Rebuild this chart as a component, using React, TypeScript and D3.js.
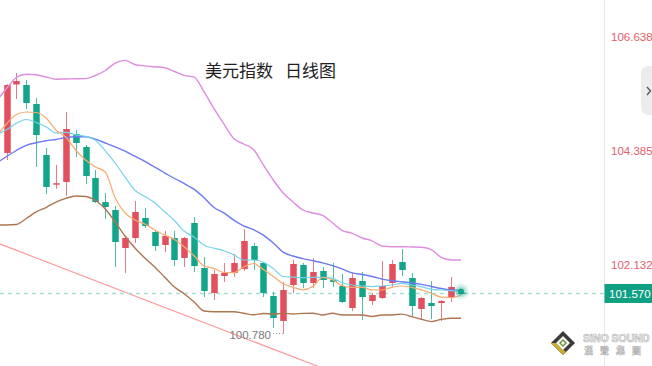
import { useRef, useEffect } from 'react'
import * as d3 from 'd3'

const W = 652
const H = 366

// daily candles, oldest first (last one is today's, still open)
const opens = [104.335, 105.683, 105.673, 105.299, 104.295, 103.725, 103.764, 104.709, 104.453, 103.843, 103.37, 103.213, 102.465, 102.662, 103.055, 102.78, 102.524, 102.662, 102.268, 102.957, 102.071, 101.579, 101.914, 101.973, 102.051, 102.504, 102.169, 101.52, 101.028, 101.736, 102.13, 101.776, 102.012, 101.835, 101.717, 101.284, 101.815, 101.421, 101.481, 101.776, 102.189, 101.874, 101.264, 101.382, 101.382, 101.481, 101.59]
const highs = [105.69, 105.91, 105.772, 105.418, 104.433, 104.099, 105.142, 104.788, 104.492, 104.0, 103.547, 103.292, 102.68, 103.39, 103.252, 102.819, 102.799, 102.799, 102.68, 103.075, 102.288, 102.032, 102.169, 102.347, 102.839, 102.563, 102.189, 101.599, 101.795, 102.229, 102.169, 102.268, 102.091, 102.169, 101.953, 101.973, 101.992, 101.579, 102.209, 102.229, 102.445, 101.973, 101.5, 101.815, 101.441, 101.894, 101.61]
const lows = [104.197, 105.398, 105.201, 104.059, 103.528, 103.626, 103.488, 104.256, 103.725, 103.35, 103.036, 102.091, 101.973, 102.563, 102.858, 102.406, 102.386, 102.11, 102.091, 101.992, 101.5, 101.441, 101.795, 101.894, 102.012, 102.032, 101.5, 100.89, 100.78, 101.579, 101.677, 101.677, 101.677, 101.697, 101.382, 101.225, 101.047, 101.343, 101.461, 101.7, 101.914, 101.107, 101.067, 101.067, 101.028, 101.402, 101.55]
const closes = [105.673, 105.752, 105.319, 104.689, 103.666, 103.74, 104.807, 104.532, 103.882, 103.37, 103.272, 102.583, 102.662, 103.173, 102.898, 102.504, 102.701, 102.229, 102.662, 102.11, 101.618, 101.953, 101.973, 102.169, 102.603, 102.229, 101.579, 101.087, 101.638, 102.15, 101.776, 101.992, 101.835, 101.795, 101.402, 101.874, 101.5, 101.54, 101.717, 102.15, 102.032, 101.323, 101.481, 101.323, 101.421, 101.697, 101.57]

// indicator lines, one value per day starting the day before the first candle
const upperBand = [105.358, 105.605, 105.821, 105.886, 105.874, 105.831, 105.788, 105.792, 105.795, 105.799, 105.86, 105.959, 106.103, 106.158, 106.077, 106.049, 106.032, 106.014, 105.939, 105.864, 105.827, 105.536, 105.209, 104.906, 104.62, 104.512, 104.404, 104.099, 103.803, 103.548, 103.37, 103.213, 103.154, 103.105, 102.957, 102.809, 102.752, 102.662, 102.607, 102.504, 102.49, 102.49, 102.485, 102.479, 102.433, 102.278, 102.229, 102.229]
const ma20 = [104.138, 104.266, 104.384, 104.486, 104.536, 104.575, 104.601, 104.64, 104.654, 104.656, 104.607, 104.532, 104.455, 104.37, 104.272, 104.17, 104.055, 103.945, 103.833, 103.732, 103.618, 103.455, 103.262, 103.156, 103.012, 102.898, 102.825, 102.717, 102.563, 102.382, 102.307, 102.256, 102.213, 102.171, 102.118, 102.048, 101.975, 101.943, 101.904, 101.853, 101.821, 101.801, 101.78, 101.748, 101.707, 101.668, 101.638, 101.624]
const ma10 = [104.699, 104.792, 104.92, 104.994, 104.935, 104.851, 104.731, 104.742, 104.693, 104.662, 104.587, 104.378, 104.138, 103.858, 103.601, 103.479, 103.357, 103.179, 103.006, 102.794, 102.675, 102.52, 102.461, 102.41, 102.331, 102.229, 102.229, 102.185, 102.059, 101.904, 101.89, 101.88, 101.888, 101.888, 101.868, 101.78, 101.736, 101.717, 101.705, 101.717, 101.736, 101.768, 101.736, 101.705, 101.652, 101.638, 101.626, 101.609]
const ma5 = [104.67, 104.906, 105.093, 105.142, 105.132, 105.024, 104.788, 104.65, 104.394, 104.197, 104.059, 103.961, 103.449, 103.154, 103.016, 102.937, 102.819, 102.721, 102.632, 102.485, 102.307, 102.11, 102.065, 101.982, 101.979, 102.091, 102.16, 102.042, 101.904, 101.76, 101.693, 101.64, 101.705, 101.884, 101.839, 101.721, 101.691, 101.691, 101.64, 101.638, 101.691, 101.717, 101.691, 101.64, 101.575, 101.496, 101.487, 101.54]
const lowerBand = [102.918, 102.918, 102.927, 103.045, 103.174, 103.262, 103.37, 103.443, 103.488, 103.479, 103.4, 103.232, 102.977, 102.701, 102.465, 102.268, 102.091, 101.894, 101.697, 101.559, 101.402, 101.225, 101.211, 101.211, 101.211, 101.181, 101.15, 101.175, 101.166, 101.177, 101.167, 101.177, 101.179, 101.146, 101.179, 101.146, 101.146, 101.146, 101.116, 101.146, 101.146, 101.164, 101.114, 101.063, 101.016, 101.059, 101.081, 101.081]

const axisTicks = [106.638, 104.385, 102.132]
const lastPrice = 101.57
const lowPrice = 100.78
const lowDay = 28
// falling trend line, two anchor points (day index, price)
const trendDays = [-1, 32]
const trendPrices = [102.569, 100.099]

const lineStyles = [
  { data: upperBand, color: '#de8ddf', width: 1.4 },
  { data: lowerBand, color: '#ad7651', width: 1.4 },
  { data: ma20, color: '#6c79f1', width: 1.4 },
  { data: ma10, color: '#72d3ea', width: 1.2 },
  { data: ma5, color: '#f8ab6c', width: 1.2 },
]

const UP = '#e24f5d'
const DOWN = '#13a589'

const App = () => {
  const svgRef = useRef<SVGSVGElement>(null)

  useEffect(() => {
    if (!svgRef.current) return
    const svg = d3.select(svgRef.current)
    svg.selectAll('*').remove()

    const x = d3.scaleLinear().domain([0, 46]).range([6.5, 461])
    const y = d3.scaleLinear().domain([106.638, 101.57]).range([36, 36 + 5.068 * 50.8])

    const axisX = 604.5

    // trend line
    svg.append('line')
      .attr('x1', x(trendDays[0])).attr('y1', y(trendPrices[0]))
      .attr('x2', x(trendDays[1])).attr('y2', y(trendPrices[1]))
      .attr('stroke', '#ff9c9c').attr('stroke-width', 1.2)

    // last price dashed line
    svg.append('line')
      .attr('x1', 0).attr('x2', axisX)
      .attr('y1', y(lastPrice)).attr('y2', y(lastPrice))
      .attr('stroke', '#a5ddd0').attr('stroke-width', 1.5)
      .attr('stroke-dasharray', '4,4')

    // candles
    const g = svg.append('g')
    opens.forEach((o, i) => {
      const c = closes[i]
      const col = c >= o ? UP : DOWN
      const cx = Math.round(x(i)) + 0.5
      g.append('line')
        .attr('x1', cx).attr('x2', cx)
        .attr('y1', y(highs[i])).attr('y2', y(lows[i]))
        .attr('stroke', col).attr('stroke-opacity', 0.75).attr('stroke-width', 1)
      const top = y(Math.max(o, c))
      const h = Math.max(1.5, Math.abs(y(o) - y(c)))
      g.append('rect')
        .attr('x', cx - 3.25).attr('width', 6.5)
        .attr('y', top).attr('height', h)
        .attr('fill', col)
    })

    // indicator lines
    const line = d3.line<number>()
      .x((_, k) => x(k - 1))
      .y(d => y(d))
      .curve(d3.curveMonotoneX)
    lineStyles.forEach(s => {
      svg.append('path')
        .attr('d', line(s.data))
        .attr('fill', 'none')
        .attr('stroke', s.color)
        .attr('stroke-width', s.width)
    })

    // glowing dot on the current price
    const dx = x(46)
    const dy = y(ma10[ma10.length - 1])
    svg.append('circle').attr('cx', dx).attr('cy', dy).attr('r', 8).attr('fill', DOWN).attr('fill-opacity', 0.12)
    svg.append('circle').attr('cx', dx).attr('cy', dy).attr('r', 5.5).attr('fill', DOWN).attr('fill-opacity', 0.22)
    svg.append('circle').attr('cx', dx).attr('cy', dy).attr('r', 3).attr('fill', DOWN)

    // lowest low marker
    const ly = y(lowPrice)
    svg.append('line')
      .attr('x1', 273).attr('x2', x(lowDay))
      .attr('y1', ly).attr('y2', ly)
      .attr('stroke', '#999').attr('stroke-width', 1)
      .attr('stroke-dasharray', '1,2')
    svg.append('text')
      .attr('x', 271).attr('y', ly + 5.5)
      .attr('text-anchor', 'end')
      .attr('font-family', 'Liberation Sans, Arial, sans-serif')
      .attr('font-size', 11.5)
      .attr('fill', '#7a7a7a')
      .text(lowPrice.toFixed(3))

    // right price axis
    svg.append('line')
      .attr('x1', axisX).attr('x2', axisX).attr('y1', 0).attr('y2', H)
      .attr('stroke', '#e8e8e8').attr('stroke-width', 1)
    axisTicks.forEach(t => {
      svg.append('text')
        .attr('x', 611).attr('y', y(t) + 4.5)
        .attr('font-family', 'Liberation Sans, Arial, sans-serif')
        .attr('font-size', 11.5)
        .attr('fill', '#e0606c')
        .text(t.toFixed(3))
    })
    svg.append('rect')
      .attr('x', axisX).attr('y', y(lastPrice) - 9.5)
      .attr('width', W - axisX).attr('height', 19)
      .attr('fill', '#0f9f83')
    svg.append('text')
      .attr('x', 609).attr('y', y(lastPrice) + 4.5)
      .attr('font-family', 'Liberation Sans, Arial, sans-serif')
      .attr('font-size', 11.5)
      .attr('fill', '#fff')
      .text(lastPrice.toFixed(3))

    // collapse tab
    svg.append('path')
      .attr('d', 'M652,66 L649,66 Q641,66 641,74 L641,107 Q641,115 649,115 L652,115 Z')
      .attr('fill', '#ececec')
    svg.append('path')
      .attr('d', 'M647,87 L650.5,91 L647,95')
      .attr('fill', 'none').attr('stroke', '#555').attr('stroke-width', 1.3)

    // title
    const title = svg.append('g')
      .attr('font-family', 'Noto Sans CJK SC, sans-serif')
      .attr('font-size', 17)
      .attr('fill', '#222')
    title.append('text').attr('x', 205).attr('y', 77).text('美元指数')
    title.append('text').attr('x', 285).attr('y', 77).text('日线图')

    // watermark logo
    const lg = svg.append('g')
    const cx0 = 563, cy0 = 343
    lg.append('path')
      .attr('d', `M${cx0},${cy0 - 12} L${cx0 + 12},${cy0} L${cx0},${cy0 + 12} L${cx0 - 12},${cy0} Z`)
      .attr('fill', '#3a3a3a')
    lg.append('path')
      .attr('d', `M${cx0 - 12},${cy0} L${cx0},${cy0 + 12} L${cx0 + 3},${cy0 + 9} L${cx0 - 7},${cy0} Z`)
      .attr('fill', '#c9a92e')
    lg.append('path')
      .attr('d', `M${cx0},${cy0 - 7} L${cx0 + 7},${cy0} L${cx0},${cy0 + 7} L${cx0 - 7},${cy0} Z`)
      .attr('fill', '#f4f4f4')
    lg.append('path')
      .attr('d', `M${cx0},${cy0 - 4} L${cx0 + 4},${cy0} L${cx0},${cy0 + 4} L${cx0 - 4},${cy0} Z`)
      .attr('fill', '#6d9b3c')
    lg.append('path')
      .attr('d', `M${cx0},${cy0 - 2} L${cx0 + 2},${cy0} L${cx0},${cy0 + 2} L${cx0 - 2},${cy0} Z`)
      .attr('fill', '#fff')
    lg.append('text')
      .attr('x', 583).attr('y', 342)
      .attr('font-family', 'Liberation Sans, Arial, sans-serif')
      .attr('font-weight', 'bold').attr('font-size', 10.5)
      .attr('fill', '#f7f7f7').attr('stroke', '#b0b0b0').attr('stroke-width', 0.6)
      .text('SiNO SOUND')
    lg.append('text')
      .attr('x', 584).attr('y', 354)
      .attr('font-family', 'Noto Sans CJK TC, sans-serif')
      .attr('font-weight', 'bold').attr('font-size', 9)
      .attr('letter-spacing', 7)
      .attr('fill', '#f7f7f7').attr('stroke', '#b0b0b0').attr('stroke-width', 0.5)
      .text('漢聲集團')
  }, [])

  return (
    <svg
      ref={svgRef}
      width={W}
      height={H}
      style={{ position: 'absolute', left: 0, top: 0, background: '#fff' }}
    />
  )
}

export default App
